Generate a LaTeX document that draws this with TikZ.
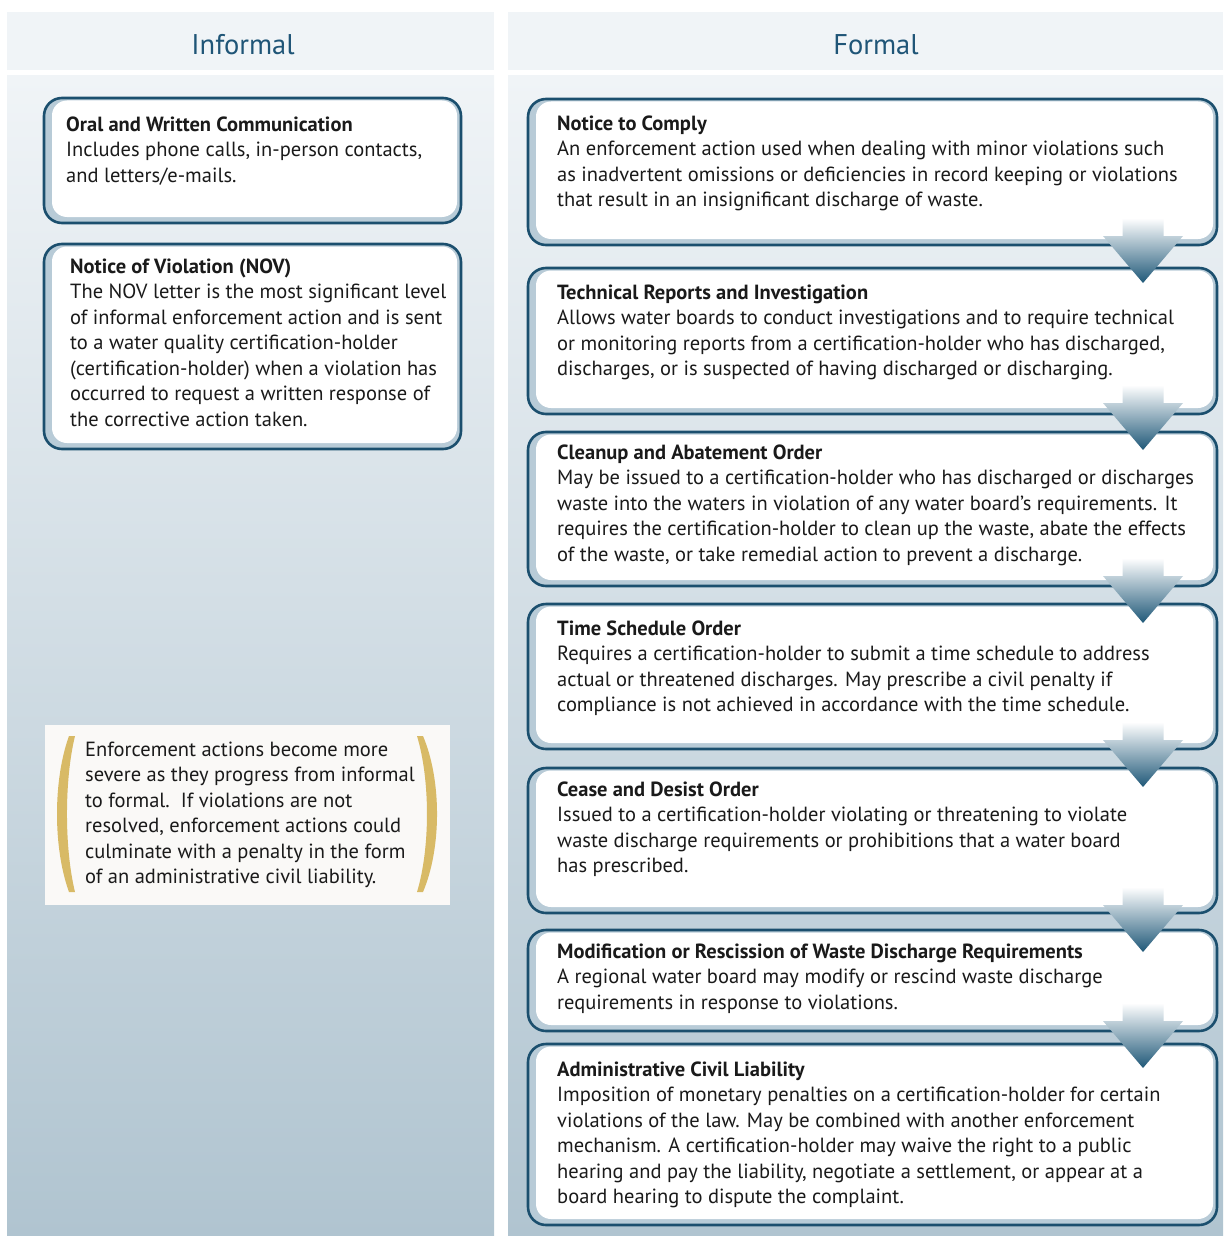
\documentclass[tikz,border=0pt]{standalone}
\usepackage{fontspec}
\setmainfont{PT Sans}
\usetikzlibrary{calc}
\definecolor{hdr}{HTML}{F0F4F7}
\definecolor{ptop}{HTML}{F0F4F7}
\definecolor{pbot}{HTML}{B0C4D0}
\definecolor{navy}{HTML}{1B4F6E}
\definecolor{band}{HTML}{B8CBD7}
\definecolor{gold}{HTML}{D8BA66}
\definecolor{notebg}{HTML}{FAF9F7}
\definecolor{htext}{HTML}{1F5577}
\definecolor{bodytext}{HTML}{1A1A1A}
\definecolor{arrowdark}{HTML}{1F5878}
\newcommand\fstrut{\rule{0pt}{17pt}}
\begin{document}
\begin{tikzpicture}[x=1pt,y=-1pt,
  card/.style={draw=navy, line width=2.6pt, rounded corners=18pt, fill=band,
    anchor=north west, inner sep=0pt, outer sep=0pt,
    path picture={\fill[white, rounded corners=15pt]
      ($(path picture bounding box.south west)+(8,-6)$) rectangle
      ($(path picture bounding box.north east)+(-4,2.5)$);}},
  txt/.style={anchor=north west, inner sep=0pt, align=left, text=bodytext,
    font=\fontsize{20.5}{25.5}\selectfont},
  head/.style={anchor=base, text=htext, font=\fontsize{28.5}{30}\selectfont},
  flowtip/.style={top color=white, bottom color=arrowdark}
]
\useasboundingbox (0,0) rectangle (1223,1236);
% panels
\fill[hdr] (7,12) rectangle (494,70);
\fill[hdr] (508,12) rectangle (1223,70);
\shade[top color=ptop, bottom color=pbot] (7,76) rectangle (494,1236);
\shade[top color=ptop, bottom color=pbot] (508,76) rectangle (1223,1236);
\node[head] (hinf) at (243,55) {Informal};
\node[head] (hfor) at (876,55) {Formal};

% informal cards
\node[card, minimum width=417pt, minimum height=125pt] (L1) at (44,98) {};
\node[txt] (L1t) at (66,114) {\fstrut\textbf{Oral and Written Communication}\\
Includes phone calls, in-person contacts,\\
and letters/e-mails.};
\node[card, minimum width=417pt, minimum height=205pt] (L2) at (44,244) {};
\node[txt] (L2t) at (70,256) {\fstrut\textbf{Notice of Violation (NOV)}\\
The NOV letter is the most significant level\\
of informal enforcement action and is sent\\
to a water quality certification-holder\\
(certification-holder) when a violation has\\
occurred to request a written response of\\
the corrective action taken.};

% note
\node[fill=notebg, anchor=north west, inner sep=0pt, minimum width=405pt, minimum height=180pt] (note) at (45,725) {};
\fill[gold] (69,736) .. controls (53,780) and (53,848) .. (69,892)
  -- (75,892) .. controls (64.3,848) and (64.3,780) .. (75,736) -- cycle;
\fill[gold] (423,736) .. controls (441.7,780) and (441.7,848) .. (423,892)
  -- (417,892) .. controls (430.3,848) and (430.3,780) .. (417,736) -- cycle;
\node[txt] (notet) at (85,739) {\fstrut Enforcement actions become more\\
severe as they progress from informal\\
to formal.\ \ If violations are not\\
resolved, enforcement actions could\\
culminate with a penalty in the form\\
of an administrative civil liability.};

% formal cards
\node[card, minimum width=689pt, minimum height=146pt] (A) at (528,99) {};
\node[txt] (At) at (557,113) {\fstrut\textbf{Notice to Comply}\\
An enforcement action used when dealing with minor violations such\\
as inadvertent omissions or deficiencies in record keeping or violations\\
that result in an insignificant discharge of waste.};
\node[card, minimum width=689pt, minimum height=146pt] (B) at (528,268) {};
\node[txt] (Bt) at (557,282) {\fstrut\textbf{Technical Reports and Investigation}\\
Allows water boards to conduct investigations and to require technical\\
or monitoring reports from a certification-holder who has discharged,\\
discharges, or is suspected of having discharged or discharging.};
\node[card, minimum width=689pt, minimum height=154pt] (C) at (528,432) {};
\node[txt] (Ct) at (557,442) {\fstrut\textbf{Cleanup and Abatement Order}\\
May be issued to a certification-holder who has discharged or discharges\\
waste into the waters in violation of any water board’s requirements. It\\
requires the certification-holder to clean up the waste, abate the effects\\
of the waste, or take remedial action to prevent a discharge.};
\node[card, minimum width=689pt, minimum height=145pt] (D) at (528,604) {};
\node[txt] (Dt) at (557,618) {\fstrut\textbf{Time Schedule Order}\\
Requires a certification-holder to submit a time schedule to address\\
actual or threatened discharges. May prescribe a civil penalty if\\
compliance is not achieved in accordance with the time schedule.};
\node[card, minimum width=689pt, minimum height=145pt] (E) at (528,768) {};
\node[txt] (Et) at (557,779) {\fstrut\textbf{Cease and Desist Order}\\
Issued to a certification-holder violating or threatening to violate\\
waste discharge requirements or prohibitions that a water board\\
has prescribed.};
\node[card, minimum width=689pt, minimum height=101pt] (F) at (528,930) {};
\node[txt] (Ft) at (557,941) {\fstrut\textbf{Modification or Rescission of Waste Discharge Requirements}\\
A regional water board may modify or rescind waste discharge\\
requirements in response to violations.};
\node[card, minimum width=689pt, minimum height=181pt] (G) at (528,1044) {};
\node[txt] (Gt) at (557,1059) {\fstrut\textbf{Administrative Civil Liability}\\
Imposition of monetary penalties on a certification-holder for certain\\
violations of the law. May be combined with another enforcement\\
mechanism. A certification-holder may waive the right to a public\\
hearing and pay the liability, negotiate a settlement, or appear at a\\
board hearing to dispute the complaint.};

% arrows
\coordinate (ax) at (1143,0);
\foreach \nxt/\off in {B/15,C/18,D/19,E/19,F/22,G/24}{
  \coordinate (T) at ($(\nxt.north -| ax)+(0,\off)$);
  \shade[flowtip] ($(T)+(-20.5,-65)$) -- ($(T)+(20.5,-65)$) -- ($(T)+(20.5,-47)$)
    -- ($(T)+(40,-47)$) -- (T) -- ($(T)+(-40,-47)$) -- ($(T)+(-20.5,-47)$) -- cycle;
}
\end{tikzpicture}
\end{document}
